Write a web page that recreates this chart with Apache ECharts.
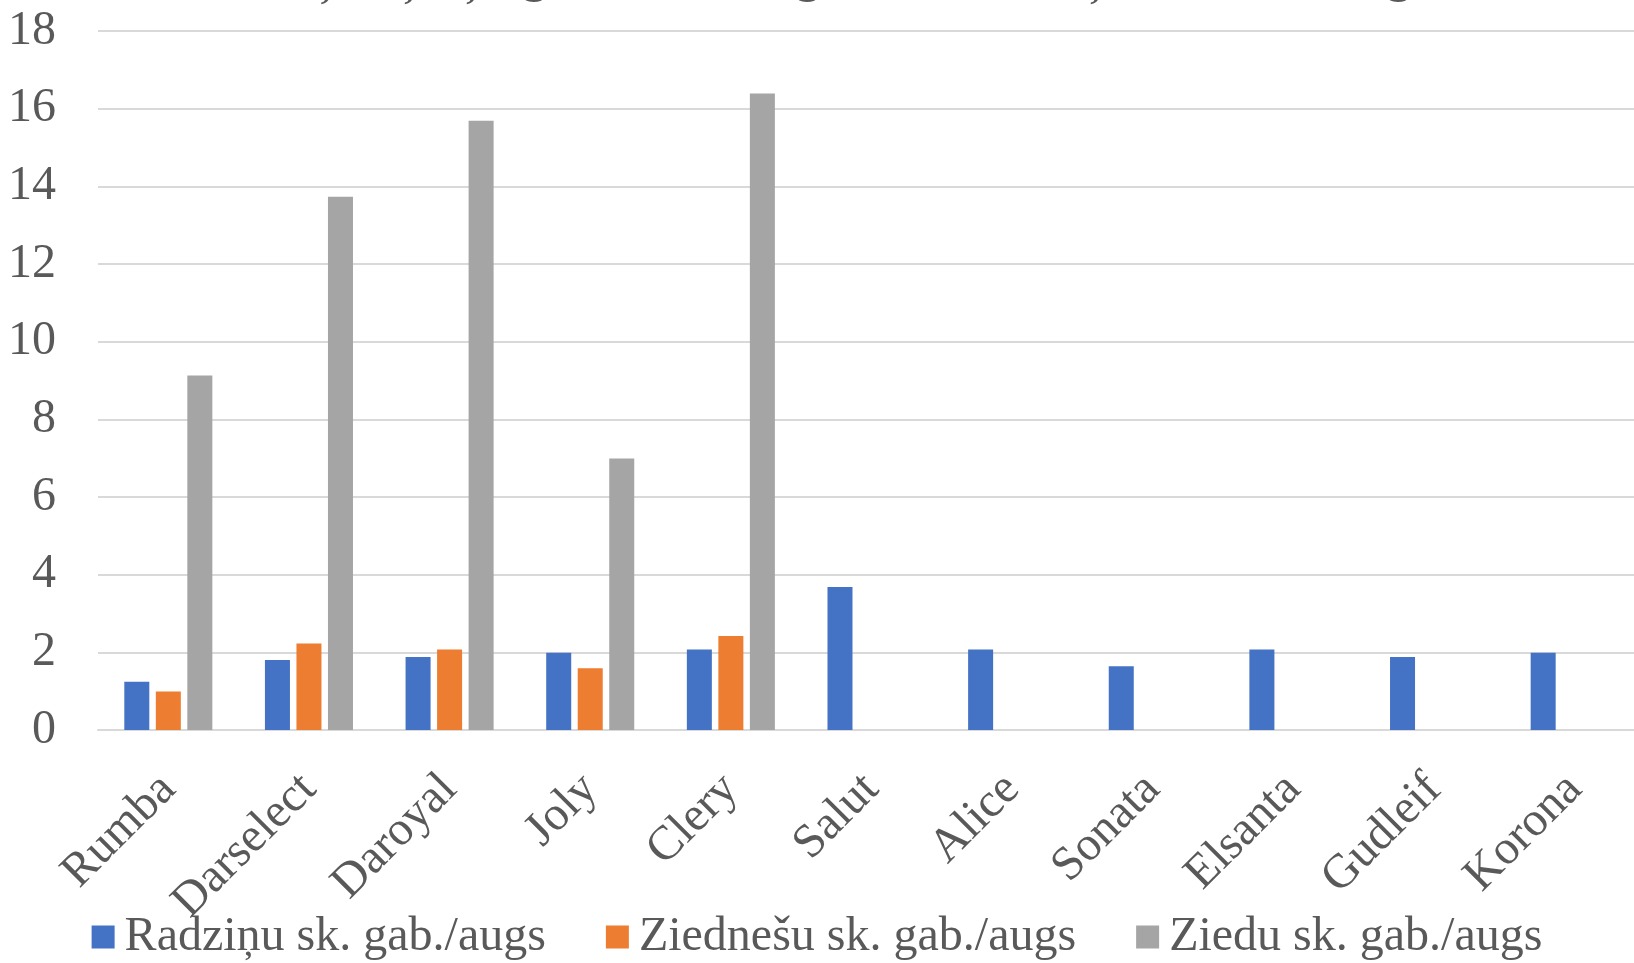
<!DOCTYPE html>
<html>
<head>
<meta charset="utf-8">
<script src="https://cdn.jsdelivr.net/npm/echarts@6/dist/echarts.min.js"></script>
<style>
html,body{margin:0;padding:0;background:#fff;}
#chart{width:1634px;height:963px;}
</style>
</head>
<body>
<div id="chart"></div>
<script>
const categories = ['Rumba','Darselect','Daroyal','Joly','Clery','Salut','Alice','Sonata','Elsanta','Gudleif','Korona'];
const radzinu = [1.24, 1.8, 1.88, 1.99, 2.07, 3.68, 2.07, 1.64, 2.07, 1.88, 1.99];
const ziednesu = [0.99, 2.23, 2.07, 1.59, 2.42, null, null, null, null, null, null];
const ziedu = [9.13, 13.73, 15.69, 6.99, 16.39, null, null, null, null, null, null];
const seriesNames = ['Radziņu sk. gab./augs', 'Ziednešu sk. gab./augs', 'Ziedu sk. gab./augs'];
const yTicks = [0, 2, 4, 6, 8, 10, 12, 14, 16, 18];
const titleText = 'Zemeņu šķirņu ģeneratīvo orgānu un radziņu skaits uz augu';

const font = '"Liberation Serif", "Times New Roman", serif';
const txt = '#595959';
const chart = echarts.init(document.getElementById('chart'));
chart.setOption({
  animation: false,
  backgroundColor: '#fff',
  title: {
    text: titleText,
    left: 'center',
    top: -49,
    textStyle: {fontFamily: font, fontSize: 48, fontWeight: 'bold', color: txt}
  },
  legend: {
    data: seriesNames,
    bottom: -3,
    left: 'center',
    itemWidth: 23,
    itemHeight: 23,
    itemGap: 60,
    icon: 'rect',
    textStyle: {fontFamily: font, fontSize: 48, color: txt, padding: [0, 0, 0, 5]}
  },
  grid: {left: 98, width: 1547, top: 31, bottom: 233, containLabel: false, outerBoundsMode: 'none'},
  xAxis: {
    type: 'category',
    data: categories,
    axisLine: {lineStyle: {color: '#d9d9d9', width: 2}},
    axisTick: {show: false},
    axisLabel: {
      rotate: 45,
      margin: 52,
      interval: 0,
      fontFamily: font,
      fontSize: 48,
      color: txt
    }
  },
  yAxis: {
    type: 'value',
    min: yTicks[0],
    max: yTicks[yTicks.length - 1],
    interval: 2,
    axisLine: {show: false},
    axisTick: {show: false},
    splitLine: {lineStyle: {color: '#d9d9d9', width: 2}},
    axisLabel: {margin: 42, fontFamily: font, fontSize: 48, color: txt}
  },
  series: [
    {name: seriesNames[0], type: 'bar', data: radzinu, itemStyle: {color: '#4472C4'}, barGap: '26%', barCategoryGap: '37.4%'},
    {name: seriesNames[1], type: 'bar', data: ziednesu, itemStyle: {color: '#ED7D31'}, barGap: '26%', barCategoryGap: '37.4%'},
    {name: seriesNames[2], type: 'bar', data: ziedu, itemStyle: {color: '#A5A5A5'}, barGap: '26%', barCategoryGap: '37.4%'}
  ]
});
</script>
</body>
</html>
